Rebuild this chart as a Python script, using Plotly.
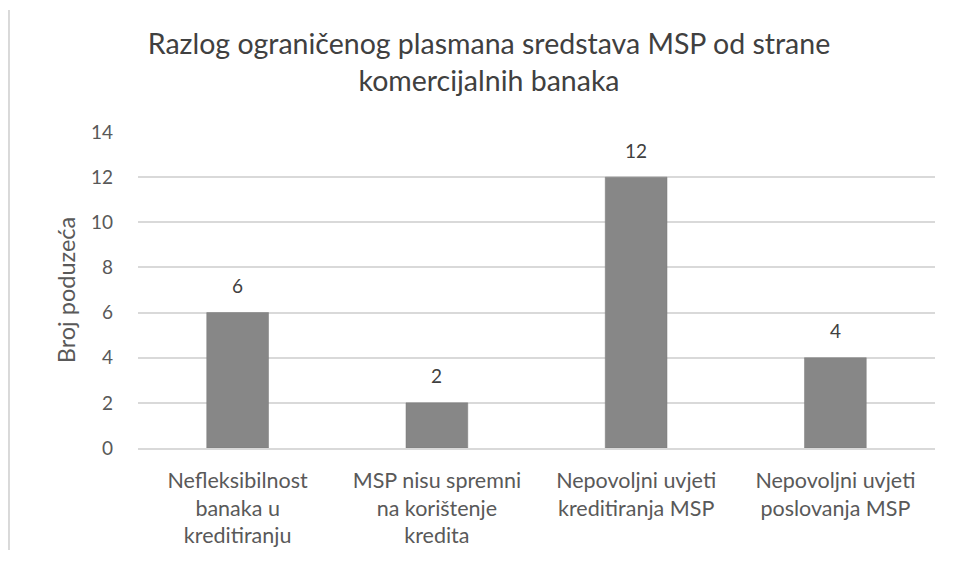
import plotly.graph_objects as go

categories = ["Nefleksibilnost<br>banaka u<br>kreditiranju",
              "MSP nisu spremni<br>na korištenje<br>kredita",
              "Nepovoljni uvjeti<br>kreditiranja MSP",
              "Nepovoljni uvjeti<br>poslovanja MSP"]
values = [6, 2, 12, 4]
y_ticks = [0, 2, 4, 6, 8, 10, 12, 14]

FONT = "Lato, 'Open Sans', sans-serif"

fig = go.Figure(go.Bar(
    x=categories, y=values, width=0.31,
    marker=dict(color="#878787", line=dict(color="#7a7a7a", width=0.5)),
    hoverinfo="skip",
))

for c, v in zip(categories, values):
    fig.add_annotation(x=c, y=v, text=str(v), showarrow=False, yshift=27,
                       yanchor="middle", font=dict(size=19, color="#404040", family=FONT))

fig.update_layout(
    width=962, height=561,
    margin=dict(l=130, r=35, t=124, b=121),
    paper_bgcolor="white", plot_bgcolor="white",
    title=dict(text="Razlog ograničenog plasmana sredstava MSP od strane<br>komercijalnih banaka",
               x=0.5, xanchor="center", y=0.918, yanchor="middle",
               font=dict(size=28.5, color="#404040", family=FONT)),
    font=dict(family=FONT, color="#595959"),
    bargap=0.69,
    showlegend=False,
    shapes=[dict(type="line", xref="paper", yref="paper",
                 x0=-0.1619, x1=-0.1619, y0=-0.323, y1=1.386,
                 line=dict(color="#d9d9d9", width=2))],
)
fig.update_xaxes(tickfont=dict(size=21.5, color="#595959"), showline=True, automargin=False,
                 linecolor="#d9d9d9", linewidth=1.5, ticks="", showgrid=False,
                 ticklabelstandoff=12)
fig.update_yaxes(range=[0, 14], tickvals=y_ticks, showgrid=True, gridcolor="#d9d9d9",
                 gridwidth=1.5, zeroline=False, tickfont=dict(size=19, color="#595959"),
                 ticklabelstandoff=24, automargin=False,
                 title=dict(text="Broj poduzeća", font=dict(size=23.5, color="#595959"), standoff=8))

fig.write_html("out.html")
